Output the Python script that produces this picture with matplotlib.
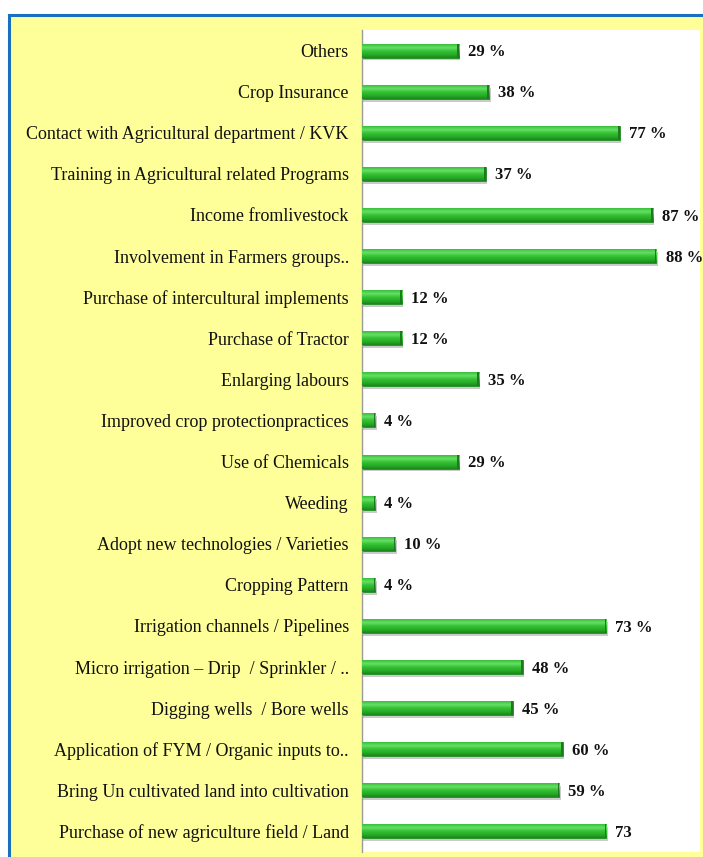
import matplotlib
matplotlib.use("Agg")
import matplotlib.pyplot as plt
import numpy as np
from matplotlib.patches import Rectangle
from matplotlib.colors import LinearSegmentedColormap

# Data (bottom to top)
categories = [
    "Purchase of new agriculture field / Land",
    "Bring Un cultivated land into cultivation",
    "Application of FYM / Organic inputs to..",
    "Digging wells  / Bore wells",
    "Micro irrigation \u2013 Drip  / Sprinkler / ..",
    "Irrigation channels / Pipelines",
    "Cropping Pattern",
    "Adopt new technologies / Varieties",
    "Weeding",
    "Use of Chemicals",
    "Improved crop protectionpractices",
    "Enlarging labours",
    "Purchase of Tractor",
    "Purchase of intercultural implements",
    "Involvement in Farmers groups..",
    "Income fromlivestock",
    "Training in Agricultural related Programs",
    "Contact with Agricultural department / KVK",
    "Crop Insurance",
    "Others",
]
values = [73, 59, 60, 45, 48, 73, 4, 10, 4, 29, 4, 35, 12, 12, 88, 87, 37, 77, 38, 29]
value_labels = ["73"] + [f"{v} %" for v in values[1:]]

W, H = 703, 857
fig = plt.figure(figsize=(W / 100, H / 100), dpi=100)
fig.patch.set_facecolor("white")

# yellow panel with blue border (top & left)
fig.patches.append(Rectangle((9 / W, 0), 1 - 9 / W, 1 - 15 / H, transform=fig.transFigure,
                             facecolor="#ffff99", edgecolor="none", zorder=-10))
fig.lines.append(plt.Line2D([9 / W, 1], [1 - 15 / H, 1 - 15 / H], transform=fig.transFigure,
                            color="#1a70c0", lw=2.2, zorder=-5))
fig.lines.append(plt.Line2D([9 / W, 9 / W], [0, 1 - 15 / H], transform=fig.transFigure,
                            color="#1a70c0", lw=2.2, zorder=-5))

ax = fig.add_axes([362 / W, 5 / H, (700 - 362) / W, (852 - 30) / H])
ax.set_facecolor("white")

y = np.arange(len(categories))
bh = 0.34

# shadow
ax.barh(y - 0.07, values, height=bh, left=0.4, color="#8a8a8a", alpha=0.45, zorder=1)
bars = ax.barh(y, values, height=bh, color="#2fb52f", edgecolor="#238a23", linewidth=0.6, zorder=2)

cmap = LinearSegmentedColormap.from_list("g", ["#1a881a", "#28ad28", "#36c236", "#66e066", "#38c038"])
grad = np.linspace(0, 1, 64).reshape(-1, 1)
for b in bars:
    x0, y0 = b.get_x(), b.get_y()
    w, h = b.get_width(), b.get_height()
    im = ax.imshow(grad, extent=[x0, x0 + w, y0, y0 + h], origin="lower", aspect="auto",
                   cmap=cmap, zorder=3, interpolation="bilinear")
    im.set_clip_path(b)
    # darker end cap
    ax.add_patch(Rectangle((x0 + w - 0.5, y0), 0.5, h, facecolor="#1e7a1e", edgecolor="none", zorder=4))

for yi, v, lab in zip(y, values, value_labels):
    ax.annotate(lab, (v, yi - 0.04), xytext=(6.5, 0), textcoords="offset points", va="center",
                ha="left", fontsize=12, fontweight="bold", family="Liberation Serif",
                color="#111111", annotation_clip=False, zorder=5)

ax.set_xlim(0, 101)
ax.set_ylim(-0.5, 19.5)
ax.set_yticks(y)
ax.set_yticklabels(categories, family="Liberation Serif", fontsize=13, color="#111111")
ax.tick_params(axis="y", length=0, pad=9.5)
ax.set_xticks([])
for s in ["top", "right", "bottom"]:
    ax.spines[s].set_visible(False)
ax.spines["left"].set_color("#999999")
ax.spines["left"].set_linewidth(1.0)

fig.savefig("out.png", dpi=100, facecolor=fig.get_facecolor())
